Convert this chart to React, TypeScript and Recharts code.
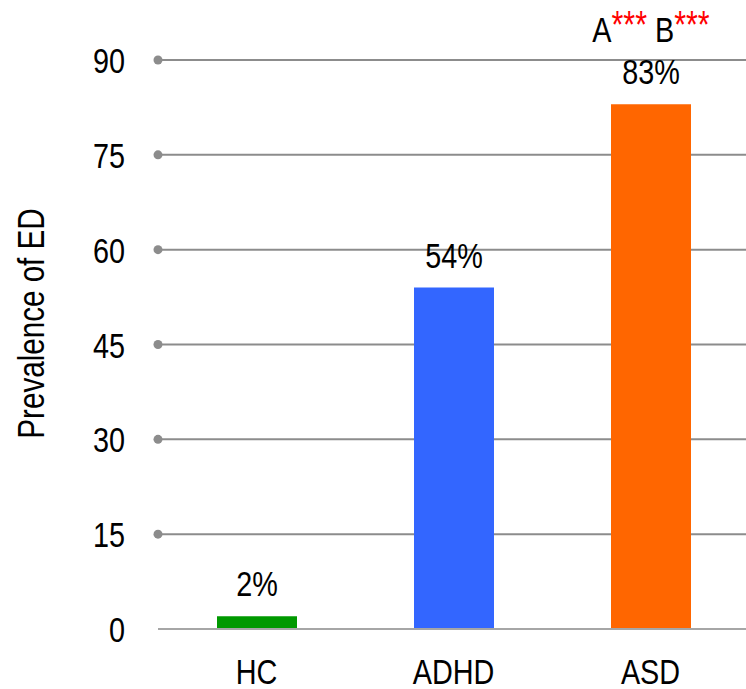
import React from 'react';
import { BarChart, Bar, XAxis, YAxis, CartesianGrid, LabelList, Cell } from 'recharts';

// Groups and their prevalence (%)
const groups = ['HC', 'ADHD', 'ASD'];
const prevalence = [2, 54, 83];
const barColors = ['#009900', '#3366FF', '#FF6600'];
// Significance markers above each bar (letter + stars)
const markers: { letter: string; stars: string }[][] = [
  [],
  [],
  [
    { letter: 'A', stars: '***' },
    { letter: 'B', stars: '***' },
  ],
];
const yTicks = [0, 15, 30, 45, 60, 75, 90];
const boundaryTicks = [0, 1, 2, 3];
const yLabel = 'Prevalence of ED';

const FONT = '"Liberation Sans", Arial, sans-serif';
const NARROW = 0.8;
const SIZE = 36;

const data = groups.map((g, i) => ({
  group: g,
  value: prevalence[i],
  idx: i,
  pos: i + 0.5,
}));

// Condensed text: horizontally squeezed around its anchor point
const CText = ({ x, y, anchor = 'middle', size = SIZE, rotate = 0, fill = '#000', children }: any) => (
  <text
    transform={`translate(${x},${y}) rotate(${rotate}) scale(${NARROW},1)`}
    x={0}
    y={0}
    textAnchor={anchor}
    fontFamily={FONT}
    fontSize={size}
    fill={fill}
  >
    {children}
  </text>
);

const YTick = (props: any) => {
  const { x, y, payload } = props;
  return (
    <g>
      {payload.value !== 0 && <circle cx={x} cy={y} r={4.5} fill="#8C8C8C" />}
      <CText x={x - 33} y={y + 13} anchor="end">
        {payload.value}
      </CText>
    </g>
  );
};

const XTick = (props: any) => {
  const { x, y, payload } = props;
  return (
    <CText x={x} y={y + 55}>
      {payload.value}
    </CText>
  );
};

const ValueLabel = (props: any) => {
  const { x, y, width, value } = props;
  return (
    <CText x={x + width / 2} y={y - 20}>
      {`${value}%`}
    </CText>
  );
};

const MarkerLabel = (props: any) => {
  const { x, y, width, index } = props;
  const m = markers[index];
  if (!m || m.length === 0) return null;
  return (
    <CText x={x + width / 2} y={y - 62}>
      {m.map((s, k) => (
        <React.Fragment key={k}>
          <tspan dy={k > 0 ? 4 : 0}>{(k > 0 ? ' ' : '') + s.letter}</tspan>
          <tspan fill="#FF0000" dy={-4} fontSize={38}>
            {s.stars}
          </tspan>
        </React.Fragment>
      ))}
    </CText>
  );
};

const YLabel = (props: any) => {
  const { viewBox } = props;
  const cy = viewBox.y + viewBox.height / 2 - 21;
  return (
    <CText x={44} y={cy} rotate={-90} size={37}>
      {yLabel}
    </CText>
  );
};

export default function App() {
  return (
    <div style={{ position: 'absolute', left: 0, top: 0, width: 760, height: 689, background: '#fff' }}>
      <BarChart
        width={760}
        height={689}
        data={data}
        margin={{ top: 60, right: 11, bottom: 0, left: 0 }}
        barSize={80}
      >
        <CartesianGrid horizontal vertical={false} stroke="#8C8C8C" strokeWidth={2} />
        <XAxis
          xAxisId="bounds"
          dataKey="pos"
          type="number"
          domain={[0, 3]}
          ticks={boundaryTicks}
          height={0}
          axisLine={false}
          tickLine={{ stroke: '#A6A6A6', strokeWidth: 2 }}
          tickSize={11}
          tick={() => null}
        />
        <XAxis
          xAxisId="cat"
          dataKey="group"
          height={60}
          tickLine={false}
          tickSize={0}
          tickMargin={0}
          axisLine={{ stroke: '#A6A6A6', strokeWidth: 2 }}
          tick={<XTick />}
          interval={0}
        />
        <YAxis
          width={158}
          domain={[0, 90]}
          ticks={yTicks}
          interval={0}
          axisLine={false}
          tickLine={false}
          tickSize={0}
          tickMargin={0}
          tick={<YTick />}
          label={<YLabel />}
        />
        <Bar dataKey="value" xAxisId="cat" isAnimationActive={false}>
          {data.map((d, i) => (
            <Cell key={d.group} fill={barColors[i]} />
          ))}
          <LabelList dataKey="value" content={<ValueLabel />} />
          <LabelList dataKey="idx" content={<MarkerLabel />} />
        </Bar>
      </BarChart>
    </div>
  );
}
